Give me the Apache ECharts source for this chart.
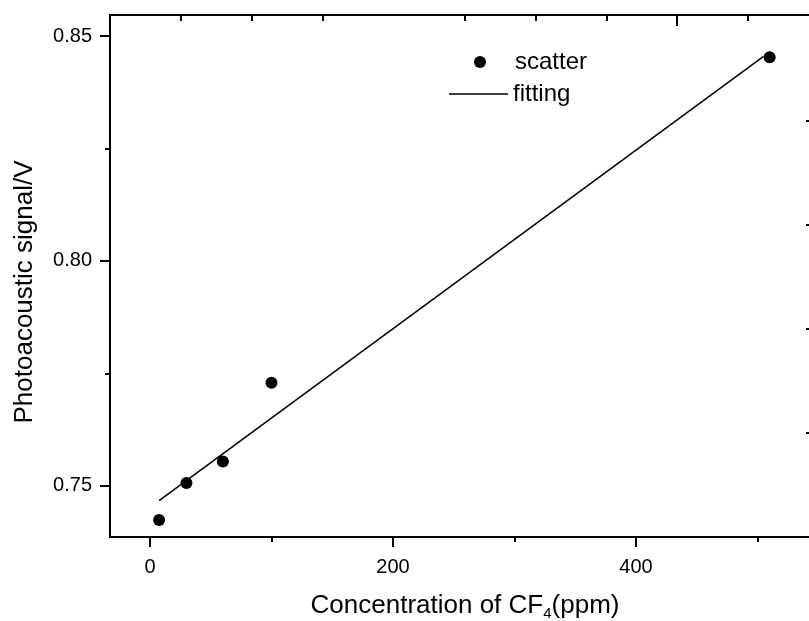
<!DOCTYPE html>
<html>
<head>
<meta charset="utf-8">
<script src="https://cdn.jsdelivr.net/npm/echarts@6/dist/echarts.min.js"></script>
<style>html,body{margin:0;padding:0;background:#fff}#c{width:809px;height:621px}</style>
</head>
<body>
<div id="c"></div>
<script>
// ---- data ----
const concentration = [7.5, 30, 60, 100, 510];
const signal = [0.7424, 0.7506, 0.7554, 0.7729, 0.8453];
const fitX = [7.5, 505];
const fitY = [0.7467, 0.8455];
const xTicks = [0, 200, 400];
const xMinorTicks = [100, 300, 500];
const yTicks = [0.75, 0.80, 0.85];
const yMinorTicks = [0.775, 0.825];
const topTicks = [1, 2, 3, 5, 6, 7, 9];
const topMajorTicks = [8];
const rightTicks = [1, 2, 3, 4];

const FONT = 'Liberation Sans, Arial, Helvetica, sans-serif';
const chart = echarts.init(document.getElementById('c'));
const hidden = {show: false};
const lineStyle = {color: '#000', width: 2};

chart.setOption({
  animation: false,
  backgroundColor: '#fff',
  textStyle: {fontFamily: FONT, color: '#000'},
  grid: {left: 110, top: 15, width: 700, bottom: 84, containLabel: false, outerBoundsMode: 'none'},
  legend: [
    {data: ['scatter'], left: 474, top: 50, padding: 0, icon: 'circle', itemWidth: 12, itemHeight: 12,
     itemStyle: {opacity: 1},
     textStyle: {fontSize: 24, fontFamily: FONT, color: '#000', padding: [0, 0, 0, 24]}},
    {data: [{name: 'fitting', icon: 'rect'}], left: 449, top: 82, padding: 0, itemWidth: 59, itemHeight: 1.5,
     textStyle: {fontSize: 24, fontFamily: FONT, color: '#000'}}
  ],
  xAxis: [
    {type: 'value', position: 'bottom', min: -32.9, max: 543.2,
     name: '{a|Concentration of CF}{s|4}{a|(ppm)}', nameLocation: 'middle', nameGap: 54,
     nameTextStyle: {padding: [0, 0, 0, 10],
                     rich: {a: {fontSize: 26, fontFamily: FONT, color: '#000'},
                            s: {fontSize: 15, fontFamily: FONT, color: '#000', verticalAlign: 'bottom', padding: [15, 0, 0, 0]}}},
     axisLine: {onZero: false, lineStyle},
     axisTick: {show: true, inside: false, length: 10, lineStyle, customValues: xTicks},
     axisLabel: {fontSize: 20, color: '#000', fontFamily: FONT, margin: 20, customValues: xTicks},
     splitLine: hidden},
    {type: 'value', position: 'bottom', min: -32.9, max: 543.2,
     axisLine: {onZero: false, show: false},
     axisTick: {show: true, length: 5, lineStyle, customValues: xMinorTicks},
     axisLabel: hidden, splitLine: hidden},
    {type: 'value', position: 'top', min: 0, max: 9.873,
     axisLine: {onZero: false, lineStyle},
     axisTick: {show: true, inside: true, length: 6, lineStyle, customValues: topTicks},
     axisLabel: hidden, splitLine: hidden},
    {type: 'value', position: 'top', min: 0, max: 9.873,
     axisLine: {onZero: false, show: false},
     axisTick: {show: true, inside: true, length: 11, lineStyle, customValues: topMajorTicks},
     axisLabel: hidden, splitLine: hidden}
  ],
  yAxis: [
    {type: 'value', position: 'left', min: 0.7386, max: 0.8547,
     name: 'Photoacoustic signal/V', nameLocation: 'middle', nameGap: 72, nameRotate: 90,
     nameTextStyle: {fontSize: 26, fontFamily: FONT, color: '#000', padding: [0, 32, 0, 0]},
     axisLine: {onZero: false, lineStyle},
     axisTick: {show: true, inside: false, length: 10, lineStyle, customValues: yTicks},
     axisLabel: {fontSize: 20, color: '#000', fontFamily: FONT, margin: 18, customValues: yTicks,
                 formatter: v => v.toFixed(2)},
     splitLine: hidden},
    {type: 'value', position: 'left', min: 0.7386, max: 0.8547,
     axisLine: {onZero: false, show: false},
     axisTick: {show: true, length: 5, lineStyle, customValues: yMinorTicks},
     axisLabel: hidden, splitLine: hidden},
    {type: 'value', position: 'right', min: 0, max: 5.019,
     axisLine: {onZero: false, lineStyle},
     axisTick: {show: true, inside: true, length: 4, lineStyle, customValues: rightTicks},
     axisLabel: hidden, splitLine: hidden}
  ],
  series: [
    {name: 'scatter', type: 'scatter', xAxisIndex: 0, yAxisIndex: 0, symbol: 'circle', symbolSize: 12,
     itemStyle: {color: '#000', opacity: 1}, data: concentration.map((x, i) => [x, signal[i]])},
    {name: 'fitting', type: 'line', xAxisIndex: 0, yAxisIndex: 0, symbol: 'none',
     lineStyle: {color: '#000', width: 1.5}, itemStyle: {color: '#000'},
     data: fitX.map((x, i) => [x, fitY[i]])}
  ]
});
</script>
</body>
</html>
